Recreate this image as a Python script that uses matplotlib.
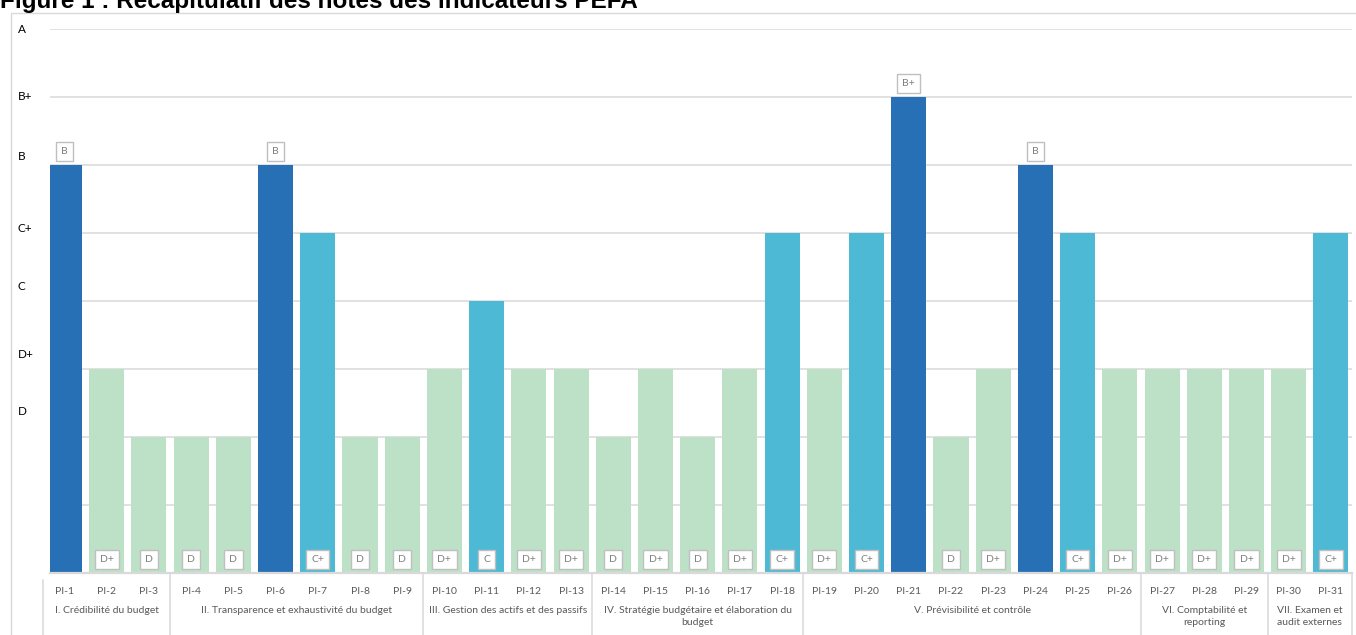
import matplotlib
matplotlib.use("Agg")
import matplotlib.pyplot as plt
from matplotlib.patches import Rectangle
from matplotlib.transforms import blended_transform_factory

# PEFA indicator scores
indicators = [f"PI-{i}" for i in range(1, 32)]
grades = ["B", "D+", "D", "D", "D", "B", "C+", "D", "D",
          "D+", "C", "D+", "D+",
          "D", "D+", "D", "D+", "C+",
          "D+", "C+", "B+", "D", "D+", "B", "C+", "D+",
          "D+", "D+", "D+",
          "D+", "C+"]

# numeric scale used to draw the bars
grade_scale = ["D", "D+", "C", "C+", "B", "B+", "A"]
grade_values = [2, 3, 4, 5, 6, 7, 8]

# pillars: label and number of indicators in each
pillars = ["I. Crédibilité du budget",
           "II. Transparence et exhaustivité du budget",
           "III. Gestion des actifs et des passifs",
           "IV. Stratégie budgétaire et élaboration du\nbudget",
           "V. Prévisibilité et contrôle",
           "VI. Comptabilité et\nreporting",
           "VII. Examen et\naudit externes"]
pillar_sizes = [3, 6, 4, 5, 8, 3, 2]

value_of = dict(zip(grade_scale, grade_values))
scores = [value_of[g] for g in grades]

colour_of = {"B": "#2870B5", "B+": "#2870B5",
             "C": "#4DB9D4", "C+": "#4DB9D4",
             "D": "#BDE1C7", "D+": "#BDE1C7"}
colours = [colour_of[g] for g in grades]

# vertical placement of the grade captions on the left (data units)
caption_y = [2.37, 3.21, 4.21, 5.07, 6.13, 7.0, 7.99]

W, H = 1356, 635
fig = plt.figure(figsize=(W / 100, H / 100), dpi=100)
plt.rcParams["font.family"] = ["Lato", "DejaVu Sans"]

ax = fig.add_axes([50 / W, (H - 573) / H, 1302 / W, 544 / H])
x = list(range(len(indicators)))
ax.bar(x, scores, width=0.83, color=colours, zorder=2)
ax.set_xlim(-0.344, 30.5)
ax.set_ylim(0, 8)

ax.set_yticks(range(1, 9))
ax.set_yticklabels([])
ax.tick_params(axis="y", length=0)
ax.grid(axis="y", color="#D9D9D9", lw=1.1, zorder=0)
ax.set_axisbelow(True)
for s in ("top", "right", "left"):
    ax.spines[s].set_visible(False)
ax.spines["bottom"].set_color("#D9D9D9")
ax.spines["bottom"].set_linewidth(1.6)
ax.spines["bottom"].set_zorder(3)

ax.set_xticks(x)
ax.set_xticklabels(indicators, fontsize=7.5, color="#595959")
ax.tick_params(axis="x", length=0, pad=10)

# value labels: above the bar for B grades, at the foot of the bar otherwise
box = dict(boxstyle="square,pad=0.5", fc="white", ec="#BFBFBF", lw=1)
for xi, v, g in zip(x, scores, grades):
    y = v + 0.2 if g.startswith("B") else 0.2
    ax.text(xi, y, g, ha="center", va="center", fontsize=7.5,
            color="#7F7F7F", bbox=box, zorder=4, clip_on=False)

# grade captions on the left
cap_tr = blended_transform_factory(fig.transFigure, ax.transData)
for g, yv in zip(grade_scale, caption_y):
    ax.text(18 / W, yv, g, transform=cap_tr, ha="left", va="center",
            fontsize=8.5, color="#000000")

# pillar separators and labels
tr = ax.get_xaxis_transform()
bottom_frac = -62 / 544
edges = [-0.5]
for n in pillar_sizes:
    edges.append(edges[-1] + n)
for i, e in enumerate(edges):
    top = -7 / 544 if i == 0 else 0
    ax.plot([e, e], [top, bottom_frac], transform=tr, color="#D9D9D9",
            lw=1.1, clip_on=False)
for label, a, b in zip(pillars, edges[:-1], edges[1:]):
    ax.text((a + b) / 2, -33 / 544, label, transform=tr, ha="center",
            va="top", fontsize=7.5, color="#595959", linespacing=1.45)

# chart frame and title
fig.add_artist(Rectangle((11 / W, -0.05), 1.1, (H - 13) / H + 0.05,
                         transform=fig.transFigure, fill=False,
                         ec="#D9D9D9", lw=1))
fig.text(0.0, 1 - 8 / H, "Figure 1 : Récapitulatif des notes des indicateurs PEFA",
         fontsize=17.5, fontweight="bold", ha="left", va="baseline",
         family=["Liberation Sans", "DejaVu Sans"])

fig.savefig("out.png", dpi=100)
